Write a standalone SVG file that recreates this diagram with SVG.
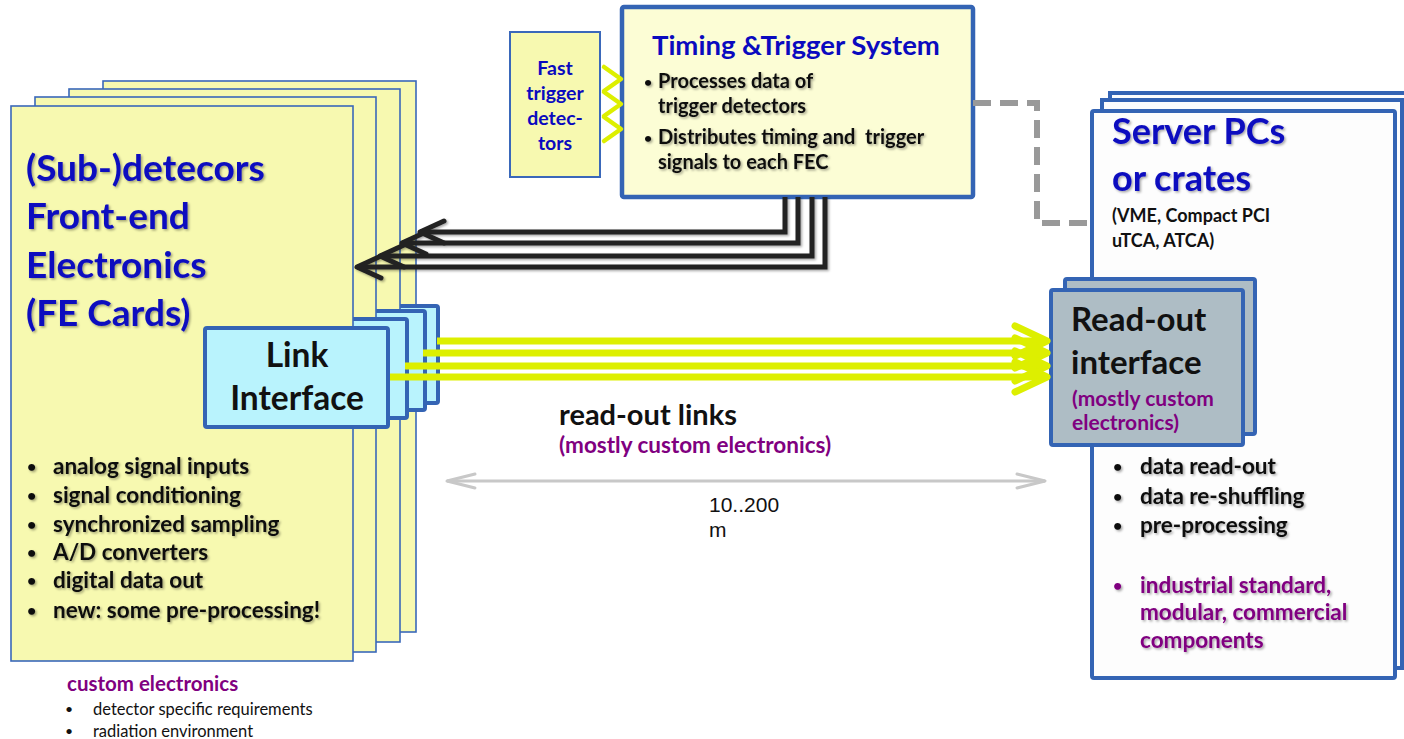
<svg xmlns="http://www.w3.org/2000/svg" width="1404" height="739" viewBox="0 0 1404 739">
  <defs>
    <style>
      .card { fill: #F7F9B0; stroke: #3A68BA; stroke-width: 1.6; }
      .link { fill: #B9F3FD; stroke: #3464B4; stroke-width: 4; }
      .tts { fill: #FCFDD5; stroke: #3464B4; stroke-width: 4.5; }
      .ftd { fill: #F7F9B0; stroke: #3A68BA; stroke-width: 2; }
      .srv { fill: #FDFDFD; stroke: #3464B4; stroke-width: 4; }
      .rdo { fill: #AEBDC5; stroke: #3464B4; stroke-width: 4; }
      text { font-family: Lato, "Open Sans", "DejaVu Sans", sans-serif; font-weight: bold; }
      .blue { fill: #0A0ABF; }
      .blk { fill: #111; }
      .pur { fill: #800080; }
      .reg { font-weight: normal; }
      .dot { font-size: 16px; }
      .arial { font-family: "Liberation Sans", Arial, sans-serif; font-weight: normal; fill: #111; }
      .sh { filter: url(#shadow); }
      .trig { fill: none; stroke: #222; stroke-width: 5; marker-end: url(#blkHead); }
      .rol { fill: none; stroke: #DDEF00; stroke-width: 7; marker-end: url(#ylwHead); }
      .chev { fill: none; stroke: #DDEF00; stroke-width: 4.5; stroke-linecap: round; stroke-linejoin: round; }
    </style>
    <filter id="shadow" x="-10%" y="-20%" width="130%" height="150%">
      <feDropShadow dx="1.5" dy="1.5" stdDeviation="1" flood-color="#000" flood-opacity="0.35"/>
    </filter>
    <marker id="blkHead" markerUnits="userSpaceOnUse" viewBox="0 0 34 30" markerWidth="34" markerHeight="30" refX="28" refY="15" orient="auto">
      <path d="M4,4 L28,15 L4,26" fill="none" stroke="#222" stroke-width="5" stroke-linecap="round" stroke-linejoin="round"/>
    </marker>
    <marker id="ylwHead" markerUnits="userSpaceOnUse" viewBox="0 0 44 40" markerWidth="44" markerHeight="40" refX="38" refY="20" orient="auto">
      <path d="M6,5 L38,20 L6,35" fill="none" stroke="#DDEF00" stroke-width="7" stroke-linecap="round" stroke-linejoin="round"/>
    </marker>
    <marker id="grayHead" markerUnits="userSpaceOnUse" viewBox="0 0 34 20" markerWidth="34" markerHeight="20" refX="30" refY="10" orient="auto-start-reverse">
      <path d="M2,3 L30,10 L2,17" fill="none" stroke="#C8C8C8" stroke-width="3" stroke-linecap="round" stroke-linejoin="round"/>
    </marker>
  </defs>

  <!-- stack of front-end cards, each with its own link interface -->
  <g id="fe-card-4">
    <rect class="card" x="103" y="81" width="313" height="551"/>
    <rect class="link" x="262" y="306" width="176" height="97" rx="2"/>
  </g>
  <g id="fe-card-3">
    <rect class="card" x="69" y="89" width="331" height="553"/>
    <rect class="link" x="245" y="311" width="180" height="99" rx="2"/>
  </g>
  <g id="fe-card-2">
    <rect class="card" x="35" y="97" width="341" height="555"/>
    <rect class="link" x="225" y="319" width="182" height="99" rx="2"/>
  </g>
  <g id="fe-card-1">
    <rect class="card" x="11" y="106" width="342" height="555"/>
    <g class="sh">
      <text class="blue" font-size="37" x="26" y="181">(Sub-)detecors</text>
      <text class="blue" font-size="37" x="26" y="229">Front-end</text>
      <text class="blue" font-size="37" x="26" y="278">Electronics</text>
      <text class="blue" font-size="37" x="26" y="326">(FE Cards)</text>
    </g>
    <g class="sh blk" font-size="22.5">
      <text class="dot" x="27" y="472">•</text><text x="53" y="474">analog signal inputs</text>
      <text class="dot" x="27" y="501">•</text><text x="53" y="503">signal conditioning</text>
      <text class="dot" x="27" y="530">•</text><text x="53" y="532">synchronized sampling</text>
      <text class="dot" x="27" y="558">•</text><text x="53" y="560">A/D converters</text>
      <text class="dot" x="27" y="586">•</text><text x="53" y="588">digital data out</text>
      <text class="dot" x="27" y="616">•</text><text x="53" y="618">new: some pre-processing!</text>
    </g>
  </g>
  <g id="link-interface">
    <rect class="link" x="205" y="328" width="183" height="99" rx="2"/>
    <text class="blk" font-size="33.5" x="297" y="367" text-anchor="middle">Link</text>
    <text class="blk" font-size="33.5" x="297" y="410" text-anchor="middle">Interface</text>
  </g>

  <!-- notes under the card stack -->
  <g id="fe-notes">
    <text class="pur" font-size="20.5" x="67" y="691">custom electronics</text>
    <text class="blk reg" font-size="14" x="65" y="714">•</text>
    <text class="blk reg" font-size="16.5" x="93" y="715">detector specific requirements</text>
    <text class="blk reg" font-size="14" x="65" y="736">•</text>
    <text class="blk reg" font-size="16.5" x="93" y="737">radiation environment</text>
  </g>

  <!-- fast trigger detectors -->
  <g id="fast-trigger">
    <rect class="ftd" x="510" y="32" width="90" height="145"/>
    <g class="blue" font-size="19.5" text-anchor="middle">
      <text x="555" y="75">Fast</text>
      <text x="555" y="100">trigger</text>
      <text x="555" y="125">detec-</text>
      <text x="555" y="150">tors</text>
    </g>
  </g>

  <!-- timing and trigger system -->
  <g id="timing-trigger">
    <rect class="tts" x="622" y="7" width="351" height="190" rx="2"/>
    <text class="blue" font-size="27.5" x="652" y="55">Timing &amp;Trigger System</text>
    <g class="sh blk" font-size="20">
      <text x="644" y="87" font-size="14">•</text><text x="658" y="88">Processes data of</text>
      <text x="658" y="113">trigger detectors</text>
      <text x="644" y="143" font-size="14">•</text><text x="658" y="144" xml:space="preserve">Distributes timing and  trigger</text>
      <text x="658" y="169">signals to each FEC</text>
    </g>
  </g>

  <!-- server PCs / crates -->
  <g id="server">
    <rect class="srv" x="1110" y="93" width="310" height="565"/>
    <rect class="srv" x="1102" y="100" width="300" height="568"/>
    <rect class="srv" x="1092" y="111" width="303" height="567" rx="2"/>
    <g class="sh">
      <text class="blue" font-size="36" x="1112" y="144">Server PCs</text>
      <text class="blue" font-size="36" x="1112" y="191">or crates</text>
    </g>
    <text class="blk" font-size="18" x="1112" y="222">(VME, Compact PCI</text>
    <text class="blk" font-size="18" x="1112" y="247">uTCA, ATCA)</text>
    <g class="sh" font-size="22.5">
      <text class="blk dot" x="1113" y="472">•</text><text class="blk" x="1140" y="474">data read-out</text>
      <text class="blk dot" x="1113" y="502">•</text><text class="blk" x="1140" y="504">data re-shuffling</text>
      <text class="blk dot" x="1113" y="531">•</text><text class="blk" x="1140" y="533">pre-processing</text>
      <text class="pur dot" x="1113" y="591">•</text><text class="pur" x="1140" y="593">industrial standard,</text>
      <text class="pur" x="1140" y="620">modular, commercial</text>
      <text class="pur" x="1140" y="648">components</text>
    </g>
  </g>

  <!-- read-out interface -->
  <g id="readout-interface">
    <rect class="rdo" x="1065" y="279" width="190" height="155" rx="2"/>
    <rect class="rdo" x="1051" y="290" width="192" height="155" rx="2"/>
    <text class="blk" font-size="33" x="1071" y="331">Read-out</text>
    <text class="blk" font-size="33" x="1071" y="374">interface</text>
    <text class="pur" font-size="21" x="1072" y="406">(mostly custom</text>
    <text class="pur" font-size="21" x="1072" y="430">electronics)</text>
  </g>

  <!-- connectors -->
  <g id="connectors">
    <g class="sh">
      <path class="trig" d="M785,197 V232 H420"/>
      <path class="trig" d="M798,197 V243 H402"/>
      <path class="trig" d="M812,197 V256 H380"/>
      <path class="trig" d="M825,197 V267 H357"/>
    </g>
    <path class="rol" d="M437,341 H1047"/>
    <path class="rol" d="M423,353 H1047"/>
    <path class="rol" d="M405,366 H1047"/>
    <path class="rol" d="M390,377 H1047"/>
    <path class="chev" d="M604,67 L621,79 L604,91"/>
    <path class="chev" d="M604,92 L621,104 L604,116"/>
    <path class="chev" d="M604,117 L621,129 L604,141"/>
    <path d="M973,103 H1037 V223 H1092" fill="none" stroke="#999" stroke-width="6" stroke-dasharray="18 9"/>
  </g>

  <!-- read-out link labels and distance -->
  <g id="link-labels">
    <text class="blk" font-size="29" x="559" y="425">read-out links</text>
    <text class="pur" font-size="22.5" x="559" y="453">(mostly custom electronics)</text>
    <path d="M447,481 H1045" fill="none" stroke="#C8C8C8" stroke-width="3" marker-start="url(#grayHead)" marker-end="url(#grayHead)"/>
    <text class="arial" font-size="21" x="709" y="512">10..200</text>
    <text class="arial" font-size="21" x="709" y="537">m</text>
  </g>
</svg>
